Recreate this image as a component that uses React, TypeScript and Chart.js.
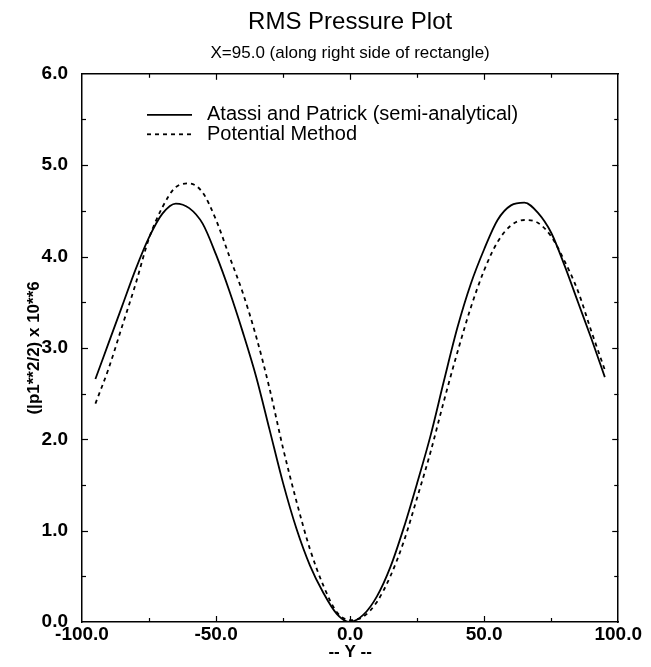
import React, { useEffect, useRef } from "react";
import { Chart, registerables } from "chart.js";

Chart.register(...registerables);

// ---- Data ----
const yPositions = [
  -95, -90, -85, -80, -75, -70, -65, -60, -55, -50, -45, -40, -35, -30, -25, -20, -15, -10, -5, 0,
  5, 10, 15, 20, 25, 30, 35, 40, 45, 50, 55, 60, 65, 70, 75, 80, 85, 90, 95,
];

const atassiValues = [
  2.66, 3.06, 3.46, 3.86, 4.21, 4.47, 4.58, 4.53, 4.36, 4.02, 3.62, 3.17, 2.68, 2.1, 1.52, 1.02, 0.62, 0.32, 0.09, 0.0,
  0.08, 0.28, 0.6, 1.03, 1.52, 2.04, 2.64, 3.22, 3.7, 4.08, 4.4, 4.56, 4.59, 4.48, 4.26, 3.9, 3.5, 3.1, 2.68,
];

const potentialValues = [
  2.39, 2.78, 3.24, 3.7, 4.2, 4.54, 4.76, 4.8, 4.7, 4.4, 4.0, 3.6, 3.12, 2.55, 1.9, 1.32, 0.8, 0.4, 0.11, 0.02,
  0.06, 0.22, 0.5, 0.88, 1.36, 1.86, 2.42, 2.95, 3.44, 3.85, 4.16, 4.34, 4.4, 4.37, 4.22, 3.95, 3.62, 3.18, 2.76,
];

const seriesLabels = ["Atassi and Patrick (semi-analytical)", "Potential Method"];

const xTickLabels = ["-100.0", "-50.0", "0.0", "50.0", "100.0"];
const yTickLabels = ["0.0", "1.0", "2.0", "3.0", "4.0", "5.0", "6.0"];

const titleText = "RMS Pressure Plot";
const subtitleText = "X=95.0 (along right side of rectangle)";
const xAxisTitle = "-- Y --";
const yAxisTitle = "(|p1**2/2) x 10**6";

const FONT = "'Liberation Sans', Arial, Helvetica, sans-serif";

const xLabelFor = (v: number) => {
  const s = v.toFixed(1);
  return xTickLabels.includes(s) ? s : "";
};
const yLabelFor = (v: number) => {
  const s = v.toFixed(1);
  return yTickLabels.includes(s) ? s : "";
};

const insideTicks = {
  id: "insideTicks",
  afterDraw(chart: any) {
    const ctx = chart.ctx;
    const { left, right, top, bottom } = chart.chartArea;
    ctx.save();
    ctx.strokeStyle = "#000";
    ctx.lineWidth = 1.2;
    const ids = ["x", "x2", "y", "y2"];
    for (const id of ids) {
      const scale = chart.scales[id];
      if (!scale) continue;
      const horiz = id === "x" || id === "x2";
      for (const t of scale.ticks) {
        if (t.value === scale.min || t.value === scale.max) continue;
        const major = horiz ? xLabelFor(t.value) !== "" : yLabelFor(t.value) !== "";
        const len = major ? 6 : 4;
        const p = Math.round(scale.getPixelForValue(t.value)) + 0.5;
        ctx.beginPath();
        if (id === "x") {
          ctx.moveTo(p, bottom);
          ctx.lineTo(p, bottom - len);
        } else if (id === "x2") {
          ctx.moveTo(p, top);
          ctx.lineTo(p, top + len);
        } else if (id === "y") {
          ctx.moveTo(left, p);
          ctx.lineTo(left + len, p);
        } else {
          ctx.moveTo(right, p);
          ctx.lineTo(right - len, p);
        }
        ctx.stroke();
      }
    }
    ctx.restore();
  },
};

const insideLegend = {
  id: "insideLegend",
  afterDraw(chart: any) {
    const ctx = chart.ctx;
    const { left, top } = chart.chartArea;
    ctx.save();
    ctx.font = `20px ${FONT}`;
    ctx.fillStyle = "#000";
    ctx.textBaseline = "middle";
    chart.data.datasets.forEach((ds: any, i: number) => {
      const y = top + 41 + i * 19.5;
      ctx.beginPath();
      ctx.setLineDash(ds.borderDash || []);
      ctx.lineWidth = ds.borderWidth;
      ctx.strokeStyle = ds.borderColor;
      ctx.moveTo(left + 65, y);
      ctx.lineTo(left + 110, y);
      ctx.stroke();
      ctx.setLineDash([]);
      ctx.fillText(ds.label, left + 125, y);
    });
    ctx.restore();
  },
};

export default function App() {
  const canvasRef = useRef<HTMLCanvasElement | null>(null);

  useEffect(() => {
    if (!canvasRef.current) return;
    const toPoints = (vals: number[]) => yPositions.map((x, i) => ({ x, y: vals[i] }));
    const chart = new Chart(canvasRef.current, {
      type: "line",
      data: {
        datasets: [
          {
            label: seriesLabels[0],
            data: toPoints(atassiValues),
            borderColor: "#000",
            borderWidth: 1.8,
            pointRadius: 0,
            cubicInterpolationMode: "monotone",
            fill: false,
          },
          {
            label: seriesLabels[1],
            data: toPoints(potentialValues),
            borderColor: "#000",
            borderWidth: 1.8,
            borderDash: [4, 4],
            pointRadius: 0,
            cubicInterpolationMode: "monotone",
            fill: false,
          },
        ],
      },
      options: {
        responsive: false,
        animation: false,
        devicePixelRatio: 1,
        layout: { padding: 0 },
        plugins: {
          legend: { display: false },
          tooltip: { enabled: false },
          title: {
            display: true,
            text: titleText,
            fullSize: false,
            color: "#000",
            font: { family: FONT, size: 24, weight: "normal" },
            padding: { top: 0, bottom: 1 },
          },
          subtitle: {
            display: true,
            text: subtitleText,
            fullSize: false,
            color: "#000",
            font: { family: FONT, size: 17, weight: "normal" },
            padding: { top: 5, bottom: 0 },
          },
        },
        scales: {
          x: {
            type: "linear",
            position: "bottom",
            min: -100,
            max: 100,
            afterFit: (s: any) => {
              s.height = 37;
            },
            ticks: {
              stepSize: 25,
              autoSkip: false,
              maxRotation: 0,
              padding: 1,
              color: "#000",
              font: { family: FONT, size: 19, weight: "bold" },
              callback: (v: any) => xLabelFor(Number(v)),
            },
            grid: { display: false, drawTicks: false },
            border: { display: true, color: "#000", width: 1.5 },
            title: {
              display: true,
              text: xAxisTitle,
              color: "#000",
              font: { family: FONT, size: 17, weight: "bold" },
              padding: { top: 0, bottom: -4 },
            },
          },
          x2: {
            type: "linear",
            position: "top",
            min: -100,
            max: 100,
            afterFit: (s: any) => {
              s.height = 10.6;
            },
            ticks: { display: false, stepSize: 25, autoSkip: false },
            grid: { display: false, drawTicks: false },
            border: { display: true, color: "#000", width: 1.5 },
          },
          y: {
            type: "linear",
            position: "left",
            min: 0,
            max: 6,
            afterFit: (s: any) => {
              s.width = 74;
            },
            ticks: {
              stepSize: 0.5,
              autoSkip: false,
              padding: 14,
              color: "#000",
              font: { family: FONT, size: 19, weight: "bold" },
              callback: (v: any) => yLabelFor(Number(v)),
            },
            grid: { display: false, drawTicks: false },
            border: { display: true, color: "#000", width: 1.5 },
            title: {
              display: true,
              text: yAxisTitle,
              color: "#000",
              font: { family: FONT, size: 17, weight: "bold" },
              padding: { top: 16, bottom: 0 },
            },
          },
          y2: {
            type: "linear",
            position: "right",
            min: 0,
            max: 6,
            afterFit: (s: any) => {
              s.width = 23;
            },
            ticks: { display: false, stepSize: 0.5, autoSkip: false },
            grid: { display: false, drawTicks: false },
            border: { display: true, color: "#000", width: 1.5 },
          },
        },
      } as any,
      plugins: [insideTicks, insideLegend],
    });
    return () => chart.destroy();
  }, []);

  return (
    <div style={{ width: 635, height: 651, background: "#fff" }}>
      <canvas ref={canvasRef} width={635} height={651} style={{ display: "block" }} />
    </div>
  );
}
